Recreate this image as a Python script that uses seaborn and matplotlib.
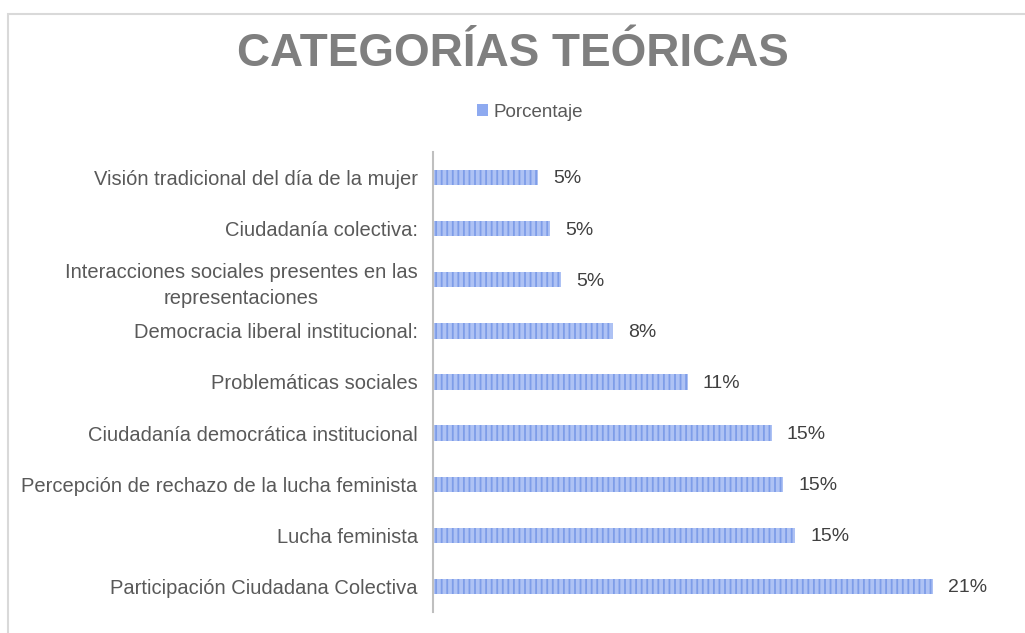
import pandas as pd
import seaborn as sns
import matplotlib.pyplot as plt
from matplotlib.patches import Patch, Rectangle

# data (percent of total)
categorias = [
    'Visión tradicional del día de la mujer',
    'Ciudadanía colectiva:',
    'Interacciones sociales presentes en las\nrepresentaciones',
    'Democracia liberal institucional:',
    'Problemáticas sociales',
    'Ciudadanía democrática institucional',
    'Percepción de rechazo de la lucha feminista',
    'Lucha feminista',
    'Participación Ciudadana Colectiva',
]
porcentaje = [4.5, 5.0, 5.5, 7.7, 10.9, 14.5, 15.0, 15.5, 21.4]
etiquetas = ['5%', '5%', '5%', '8%', '11%', '15%', '15%', '15%', '21%']

df = pd.DataFrame({'Categoria': categorias, 'Porcentaje': porcentaje})

sns.set_theme(style='white')
plt.rcParams['font.family'] = ['Liberation Sans', 'DejaVu Sans']
plt.rcParams['hatch.linewidth'] = 1.3

fig = plt.figure(figsize=(10.25, 6.33), dpi=100)
ax = fig.add_axes([0.4224, 0.0332, 0.5776, 0.7267])

sns.barplot(x='Porcentaje', y='Categoria', data=df, orient='h', ax=ax,
            color='#aec2f4', width=0.3, linewidth=0, saturation=1)
for bar in ax.patches:
    bar.set_hatch('|||')
    bar.set_edgecolor('#7e9de8')
    bar.set_linewidth(0)

# value labels
for bar, txt in zip(ax.patches, etiquetas):
    ax.annotate(txt, (bar.get_width(), bar.get_y() + bar.get_height() / 2),
                xytext=(11, -1), textcoords='offset points', va='center', ha='left',
                fontsize=14, color='#404040')

ax.set_xlim(0, 25.35)
ax.set_xlabel('')
ax.set_ylabel('')
ax.set_xticks([])
for side in ['top', 'right', 'bottom']:
    ax.spines[side].set_visible(False)
ax.spines['left'].set_color('#bfbfbf')
ax.spines['left'].set_linewidth(1.5)
ax.tick_params(axis='y', length=0, pad=11, labelsize=14.5, labelcolor='#595959')
for lbl in ax.get_yticklabels():
    lbl.set_multialignment('center')
    lbl.set_linespacing(1.45)

# title and legend
fig.text(0.5, 0.914, 'CATEGORÍAS TEÓRICAS', ha='center', va='center',
         fontsize=33, fontweight='bold', color='#7f7f7f')
fig.legend(handles=[Patch(facecolor='#8eaaf0', edgecolor='none')], labels=['Porcentaje'],
           loc='center', bbox_to_anchor=(0.517, 0.823), frameon=False,
           fontsize=13.5, handlelength=0.6, handleheight=0.6, handletextpad=0.3,
           labelcolor='#595959')

# chart border
fig.patches.append(Rectangle((8 / 1025, -0.05), 1.1, 1 - 14 / 633 + 0.05,
                             transform=fig.transFigure, fill=False,
                             edgecolor='#d9d9d9', linewidth=1.5))

plt.savefig('out.png', dpi=100)
